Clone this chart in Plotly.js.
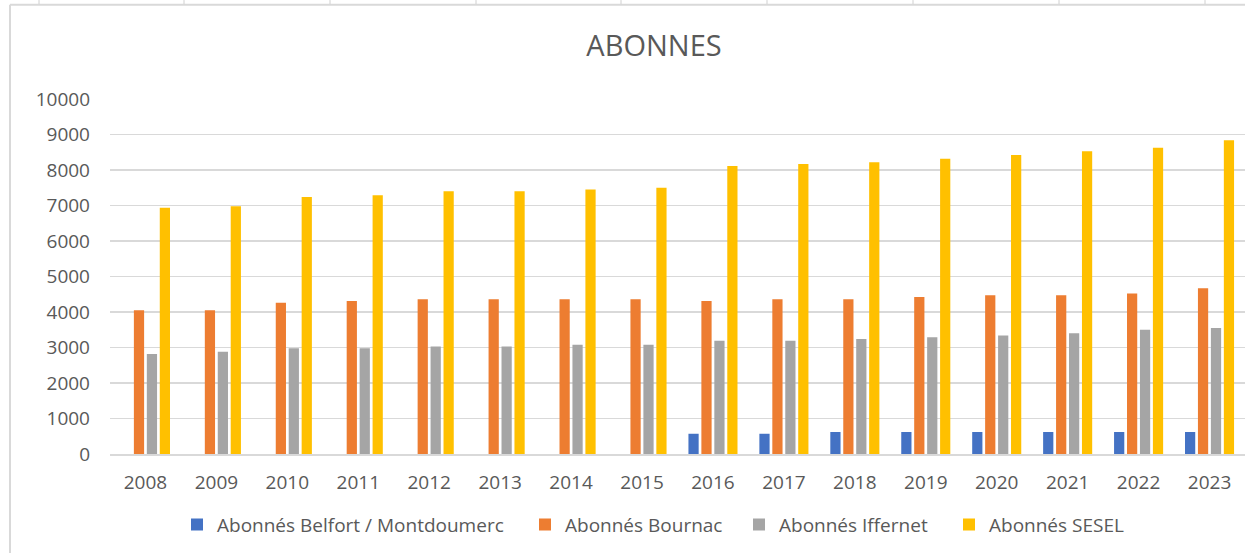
<!DOCTYPE html>
<html>
<head>
<meta charset="utf-8">
<script src="https://cdn.plot.ly/plotly-3.0.1.min.js"></script>
<style>html,body{margin:0;padding:0;background:#fff;}#chart{width:1245px;height:553px;}</style>
</head>
<body>
<div id="chart"></div>
<script>
const years = ["2008","2009","2010","2011","2012","2013","2014","2015","2016","2017","2018","2019","2020","2021","2022","2023"];
const belfort  = [null,null,null,null,null,null,null,null,570,570,620,620,620,620,620,620];
const bournac  = [4050,4050,4260,4310,4360,4360,4360,4360,4310,4360,4360,4420,4470,4470,4520,4670];
const iffernet = [2820,2880,2980,2980,3030,3030,3080,3080,3190,3190,3240,3290,3340,3400,3500,3550];
const sesel    = [6940,6980,7240,7290,7400,7400,7450,7500,8110,8170,8220,8320,8420,8530,8630,8840];
const seriesNames = ["Abonnés Belfort / Montdoumerc","Abonnés Bournac","Abonnés Iffernet","Abonnés SESEL"];
const yTicks = [0,1000,2000,3000,4000,5000,6000,7000,8000,9000,10000];

const colors = ["#4472C4","#ED7D31","#A5A5A5","#FFC000"];
const legendIds = ["legend","legend2","legend3","legend4"];
const allSeries = [belfort, bournac, iffernet, sesel];
const traces = allSeries.map((vals, i) => ({
  type: "bar",
  name: seriesNames[i],
  x: years,
  y: vals,
  legend: legendIds[i],
  marker: {color: colors[i], line: {width: 0}},
  hoverinfo: "x+y+name"
}));

const font = {family: "Open Sans, Noto Sans, sans-serif", color: "#595959"};
const L = 110, W = 1135, Y0 = 454.3, H = 355.3;
const px = v => (v - L) / W;
const py = v => (Y0 - v) / H;

const shapes = [
  {type:"line", xref:"paper", yref:"paper", x0:px(10), x1:px(10), y0:py(4.7), y1:py(560), line:{color:"#D9D9D9", width:2}},
  {type:"line", xref:"paper", yref:"paper", x0:px(10), x1:px(1250), y0:py(4.7), y1:py(4.7), line:{color:"#D9D9D9", width:2}}
];
[39,184,330,476,621,767,913,1059,1205].forEach(x => {
  shapes.push({type:"line", xref:"paper", yref:"paper", x0:px(x), x1:px(x), y0:py(0), y1:py(4), line:{color:"#D0D0D0", width:1}});
});

const legendLefts = [196, 544, 758, 968];
const layout = {
  width: 1245, height: 553,
  margin: {l: L, r: 0, t: 99, b: 553 - Y0, pad: 0},
  paper_bgcolor: "#fff",
  plot_bgcolor: "#fff",
  font: font,
  title: {text: "ABONNES", font: {family: font.family, size: 29, color: "#595959"}, x: 654/1245, xanchor: "center", xref: "container", y: 1 - 46/553, yref: "container", yanchor: "middle"},
  barmode: "group",
  bargap: 0.27,
  bargroupgap: 0.21,
  xaxis: {
    type: "category",
    tickfont: {size: 19, color: "#595959"},
    showline: true, linecolor: "#D9D9D9", linewidth: 1.5,
    ticks: "", showgrid: false,
    ticklabelstandoff: 11,
    fixedrange: true
  },
  yaxis: {
    range: [0, 10000],
    tickvals: yTicks,
    ticktext: yTicks.map(String),
    tickfont: {size: 19, color: "#595959"},
    showgrid: true, gridcolor: "#D9D9D9", gridwidth: 1.5,
    zeroline: false,
    ticks: "",
    ticklabelstandoff: 19,
    showline: false,
    fixedrange: true
  },
  shapes: shapes,
  showlegend: true
};
legendIds.forEach((id, i) => {
  layout[id] = {
    orientation: "h",
    x: px(legendLefts[i] - 19), xanchor: "left",
    y: py(525), yanchor: "middle",
    bgcolor: "rgba(0,0,0,0)", borderwidth: 0,
    font: {size: 19, color: "#595959"},
    itemclick: false, itemdoubleclick: false
  };
});

Plotly.newPlot("chart", traces, layout, {displayModeBar: false, staticPlot: true});
</script>
</body>
</html>
